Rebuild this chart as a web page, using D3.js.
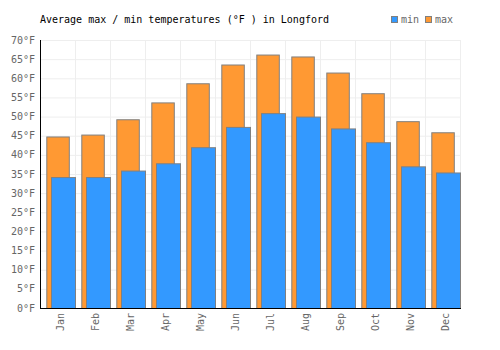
<!DOCTYPE html>
<html>
<head>
<meta charset="utf-8">
<script src="https://cdn.jsdelivr.net/npm/d3@7"></script>
<style>
  body { margin: 0; background: #fff; }
  text { font-family: "DejaVu Sans Mono", monospace; font-size: 10px; }
</style>
</head>
<body>
<div id="chart"></div>
<script>
var months = ['Jan', 'Feb', 'Mar', 'Apr', 'May', 'Jun', 'Jul', 'Aug', 'Sep', 'Oct', 'Nov', 'Dec'];
var maxTemps = [44.8, 45.3, 49.3, 53.7, 58.7, 63.6, 66.2, 65.7, 61.5, 56.1, 48.8, 45.9];
var minTemps = [34.2, 34.2, 35.9, 37.8, 42.0, 47.3, 50.9, 50.0, 46.9, 43.3, 37.0, 35.4];
var yTicks = [0, 5, 10, 15, 20, 25, 30, 35, 40, 45, 50, 55, 60, 65, 70];

var width = 500, height = 350;
var plotLeft = 40, plotRight = 460, plotTop = 40, plotBottom = 308;

var svg = d3.select('#chart')
	.append('svg')
	.attr('width', width)
	.attr('height', height);

var x = d3.scaleBand()
	.domain(months)
	.range([plotLeft, plotRight]);

var y = d3.scaleLinear()
	.domain([0, 70])
	.range([plotBottom, plotTop]);

var bw = x.bandwidth();

// grid
svg.append('g')
	.selectAll('line')
	.data(yTicks)
	.enter().append('line')
	.attr('x1', plotLeft).attr('x2', plotRight)
	.attr('y1', d => y(d) + 0.5).attr('y2', d => y(d) + 0.5)
	.attr('stroke', '#eee');

svg.append('g')
	.selectAll('line')
	.data(months.concat(['end']))
	.enter().append('line')
	.attr('x1', (d, i) => plotLeft + i * bw + 0.5)
	.attr('x2', (d, i) => plotLeft + i * bw + 0.5)
	.attr('y1', plotTop).attr('y2', plotBottom)
	.attr('stroke', '#eee');

// bars
svg.append('g')
	.selectAll('rect')
	.data(maxTemps)
	.enter().append('rect')
	.attr('x', (d, i) => x(months[i]) + 6.8)
	.attr('width', 22.5)
	.attr('y', d => y(d) + 0.5)
	.attr('height', d => plotBottom - y(d))
	.attr('fill', '#ff9933')
	.attr('stroke', '#808080')
	.attr('stroke-width', 1);

svg.append('g')
	.selectAll('rect')
	.data(minTemps)
	.enter().append('rect')
	.attr('x', (d, i) => x(months[i]) + 11.5)
	.attr('width', 24)
	.attr('y', d => y(d) + 0.5)
	.attr('height', d => plotBottom - y(d))
	.attr('fill', '#3399ff')
	.attr('stroke', '#808080')
	.attr('stroke-width', 1);

// axes
svg.append('line')
	.attr('x1', plotLeft + 0.5).attr('x2', plotLeft + 0.5)
	.attr('y1', plotTop).attr('y2', plotBottom + 1)
	.attr('stroke', '#000');
svg.append('line')
	.attr('x1', plotLeft).attr('x2', plotRight + 1)
	.attr('y1', plotBottom + 0.5).attr('y2', plotBottom + 0.5)
	.attr('stroke', '#000');

// y labels
svg.append('g')
	.selectAll('text')
	.data(yTicks)
	.enter().append('text')
	.attr('x', 35)
	.attr('y', d => y(d))
	.attr('dy', '0.35em')
	.attr('text-anchor', 'end')
	.attr('fill', '#666')
	.text(d => d + '°F');

// x labels
svg.append('g')
	.selectAll('text')
	.data(months)
	.enter().append('text')
	.attr('transform', d => 'translate(' + (x(d) + 20) + ',' + 313 + ') rotate(-90)')
	.attr('dy', '0.35em')
	.attr('text-anchor', 'end')
	.attr('fill', '#666')
	.text(d => d);

// title
svg.append('text')
	.attr('x', 40)
	.attr('y', 23)
	.attr('fill', '#000')
	.text('Average max / min temperatures (°F ) in Longford');

// legend
var legend = [['min', '#3399ff', 391], ['max', '#ff9933', 425]];
var lg = svg.append('g')
	.selectAll('g')
	.data(legend)
	.enter().append('g');
lg.append('rect')
	.attr('x', d => d[2] + 0.5)
	.attr('y', 16.5)
	.attr('width', 6)
	.attr('height', 6)
	.attr('fill', d => d[1])
	.attr('stroke', '#808080');
lg.append('text')
	.attr('x', d => d[2] + 10)
	.attr('y', 23)
	.attr('fill', '#666')
	.text(d => d[0]);
</script>
</body>
</html>
